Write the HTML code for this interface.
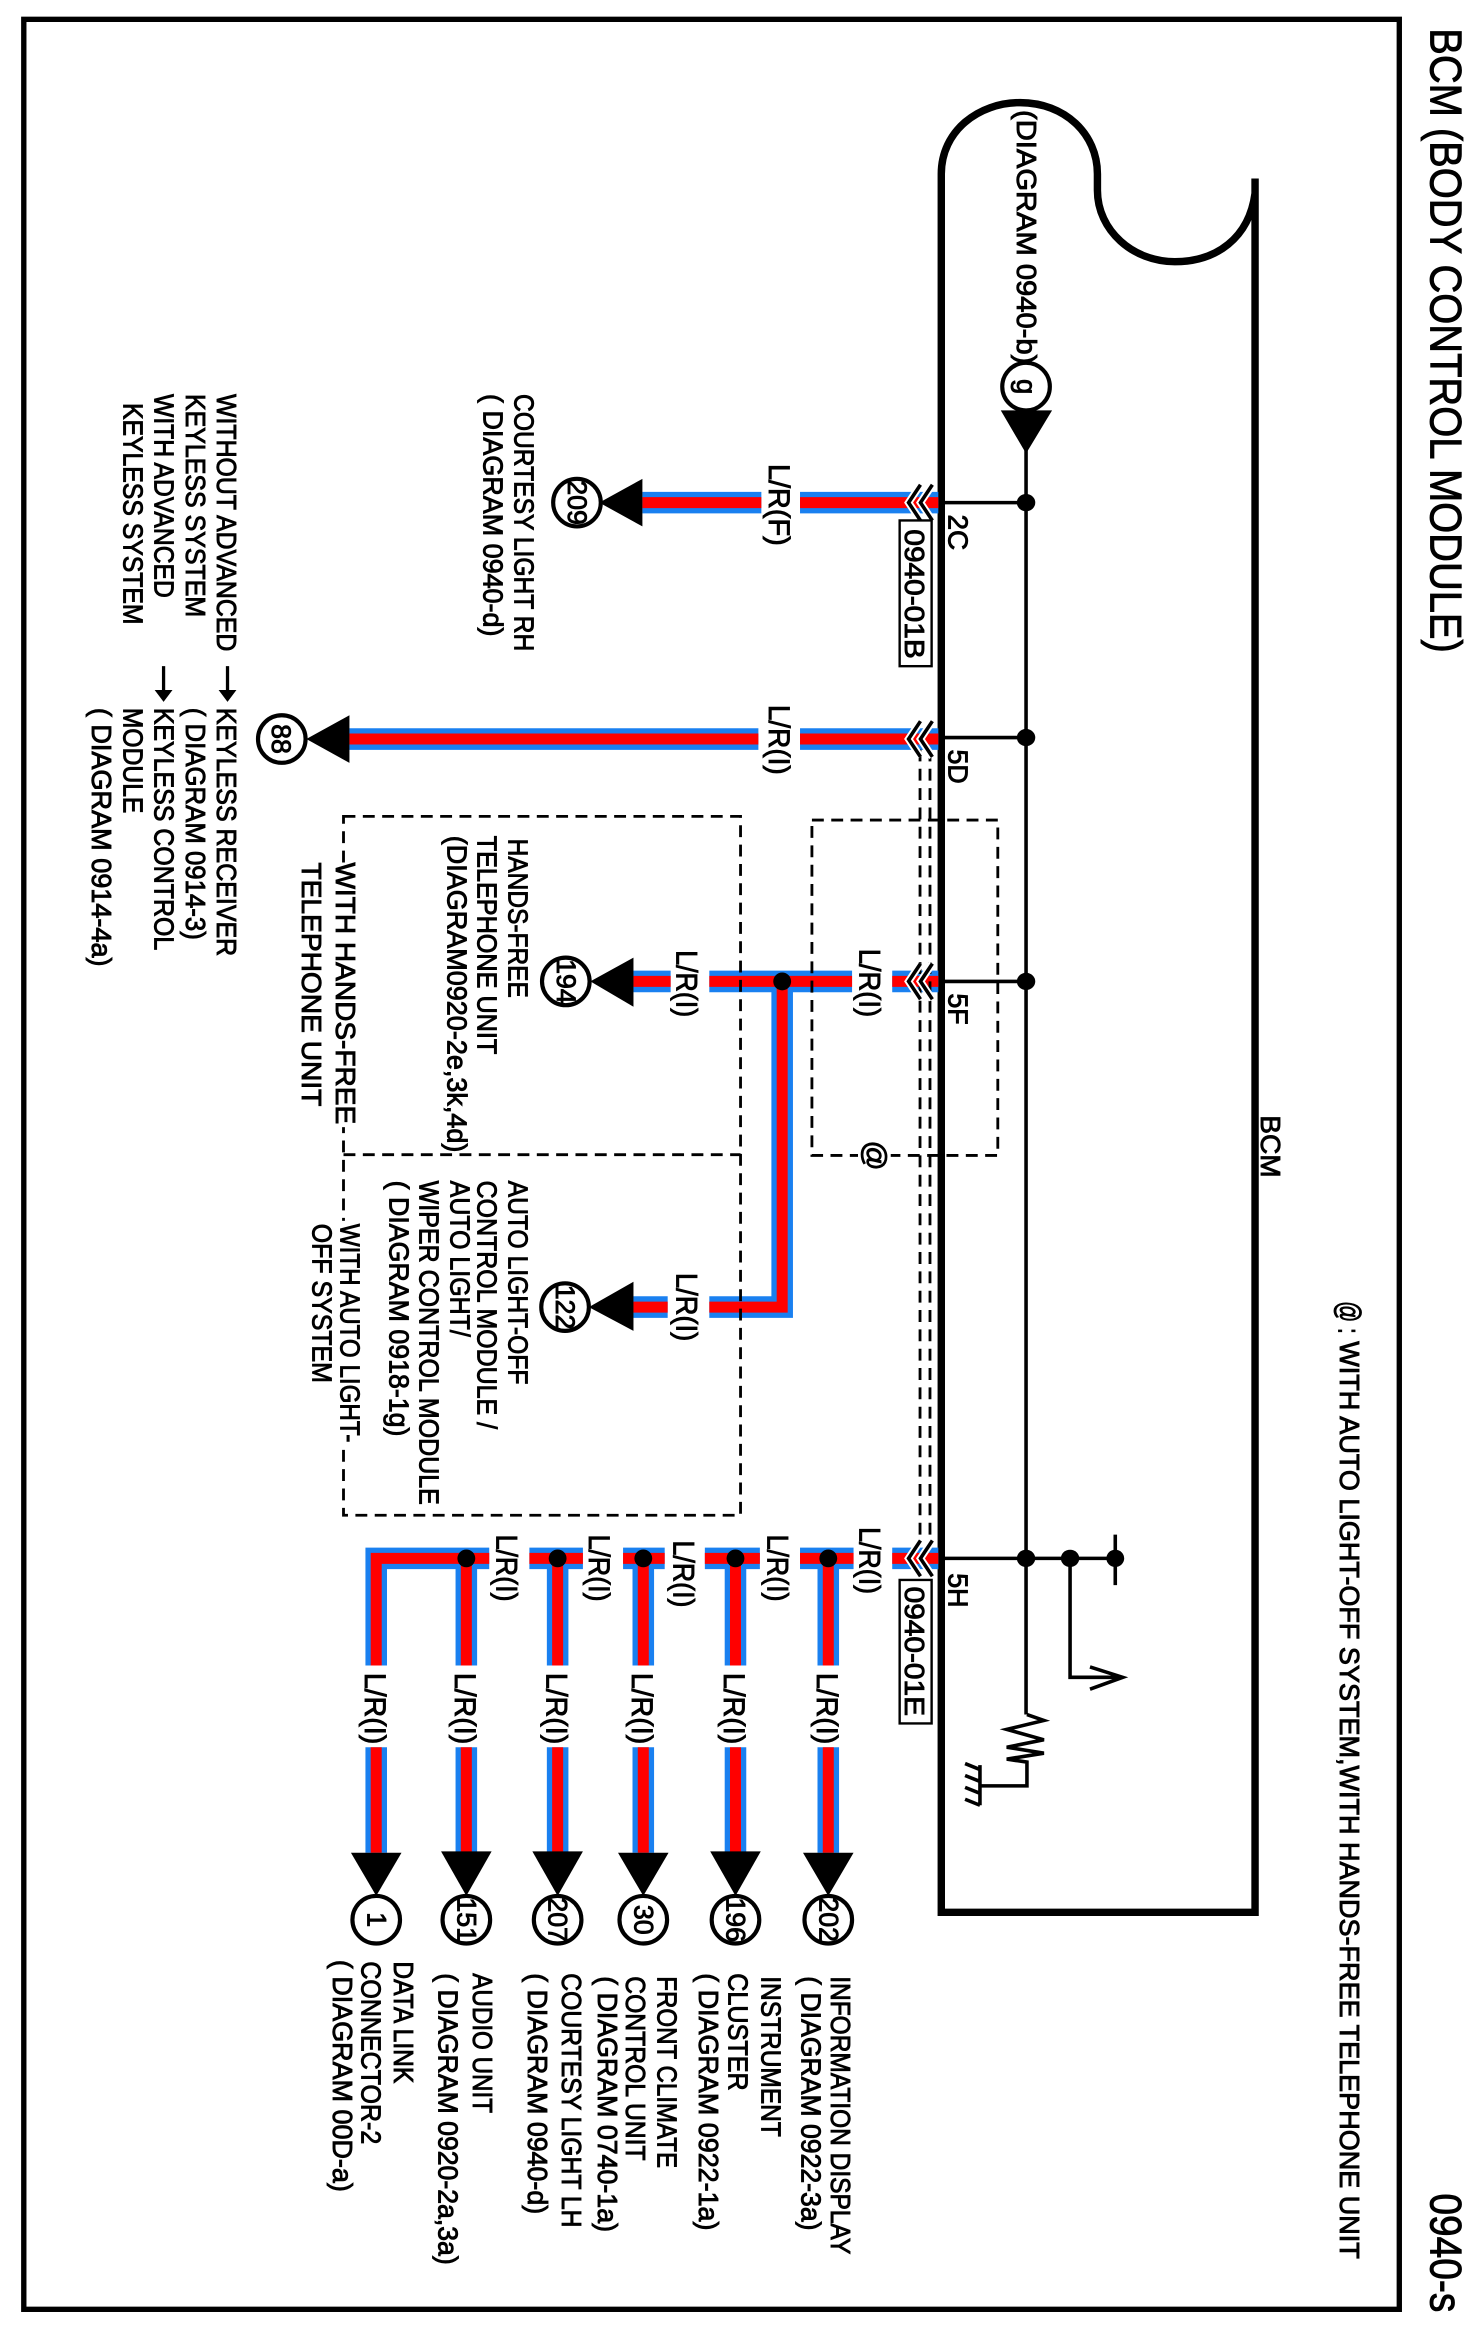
<!DOCTYPE html>
<html><head><meta charset="utf-8"><style>
html,body{margin:0;padding:0;background:#fff}
svg{display:block}
text{font-family:"Liberation Sans",sans-serif;font-size:18.5px;fill:#000;stroke:#000;stroke-width:.6}
.w{font-size:20px}
.n{font-size:18px}
.bh{stroke:#1a80f0;stroke-width:14.5;fill:none}
.rh{stroke:#ff0000;stroke-width:7.4;fill:none}
.k{stroke:#000;fill:none}
.d{stroke:#000;fill:none;stroke-width:1.9;stroke-dasharray:8 5}
.c{fill:#fff;stroke:#000;stroke-width:2.8}
</style></head><body>
<svg xmlns="http://www.w3.org/2000/svg" width="1479" height="2334" viewBox="0 0 994.6 1569.6" preserveAspectRatio="none">
<rect width="994.6" height="1569.6" fill="#fff"/>
<rect x="16" y="13" width="925" height="1540" fill="none" stroke="#000" stroke-width="3.6"/>

<!-- titles -->
<text transform="translate(962,19) rotate(90)" textLength="420" lengthAdjust="spacingAndGlyphs" style="font-size:30px">BCM (BODY CONTROL MODULE)</text>
<text transform="translate(962,1475) rotate(90)" textLength="80" lengthAdjust="spacingAndGlyphs" style="font-size:30px">0940-s</text>
<text transform="translate(900,875) rotate(90)" textLength="22" lengthAdjust="spacingAndGlyphs" style="font-size:21px">@ :</text>
<text transform="translate(901,902) rotate(90)" textLength="617" lengthAdjust="spacingAndGlyphs">WITH AUTO LIGHT-OFF SYSTEM,WITH HANDS-FREE TELEPHONE UNIT</text>
<text transform="translate(848,750) rotate(90)" textLength="42" lengthAdjust="spacingAndGlyphs">BCM</text>

<!-- module -->
<path class="k" stroke-width="5" d="M633 1286V117C633 88 658 69 686 69C716 69 738 90 738 117V128C738 155 762 176 790 176C818 176 840 160 844 130V120V1286Z"/>

<!-- bus -->
<path class="k" stroke-width="2.4" d="M690 300V1153M633 338H690M633 496H690M633 660H690M633 1048H750M750 1032V1066M719.6 1048V1128H755M733 1121L755 1128L733 1136"/>
<path class="k" stroke-width="2.4" d="M690.6 1153L702 1157L677 1163L702 1170L677 1175L702 1179L677 1183L690.6 1185V1201H659M659 1187V1214M659 1190L649 1186M659 1198L649 1194M659 1206L649 1202M659 1214L649 1210"/>
<g>
<ellipse cx="690" cy="338" rx="6.2" ry="5.8"/><ellipse cx="690" cy="496" rx="6.2" ry="5.8"/><ellipse cx="690" cy="660" rx="6.2" ry="5.8"/><ellipse cx="690" cy="1048" rx="6.2" ry="5.8"/><ellipse cx="719.6" cy="1048" rx="6.2" ry="5.8"/><ellipse cx="750" cy="1048" rx="6" ry="5.8"/>
</g>

<circle class="c" cx="690" cy="260" r="16"/>
<text transform="translate(684,260) rotate(90)" text-anchor="middle">g</text>
<path d="M673 276H707.5L690 305Z"/>
<text transform="translate(684,74) rotate(90)" textLength="171" lengthAdjust="spacingAndGlyphs">(DIAGRAM 0940-b)</text>

<!-- wires -->
<path class="bh" d="M432 338H512M538 338H631M235 497H510M538 497H631M426 660H451M477 660H573M600 660H631M426 879H449M477 879H526V660M600 1048H631"/>
<path class="bh" d="M538 1048H574M474 1048H511M419 1048H447M356 1048H392M329 1048H253V1120M253 1175V1246M313.6 1048V1120M313.6 1175V1246M375 1048V1120M375 1175V1246M432.6 1048V1120M432.6 1175V1246M494.6 1048V1120M494.6 1175V1246M557 1048V1120M557 1175V1246"/>
<path class="rh" d="M432 338H512M538 338H631M235 497H510M538 497H631M426 660H451M477 660H573M600 660H631M426 879H449M477 879H526V660M600 1048H631"/>
<path class="rh" d="M538 1048H574M474 1048H511M419 1048H447M356 1048H392M329 1048H253V1120M253 1175V1246M313.6 1048V1120M313.6 1175V1246M375 1048V1120M375 1175V1246M432.6 1048V1120M432.6 1175V1246M494.6 1048V1120M494.6 1175V1246M557 1048V1120M557 1175V1246"/>
<circle cx="526" cy="660" r="6"/><circle cx="557" cy="1048" r="6"/><circle cx="494.6" cy="1048" r="6"/><circle cx="432.6" cy="1048" r="6"/><circle cx="375" cy="1048" r="6"/><circle cx="313.6" cy="1048" r="6"/>

<!-- dashed -->
<path class="d" d="M618.7 504V1036M625.4 504V1036"/>
<path class="d" d="M546 551.5H671V777H546Z"/>
<path class="d" d="M231 549H498V1019H231ZM231 776.5H498"/>
<rect x="224" y="582" width="16" height="176" fill="#fff"/>
<rect x="224" y="821" width="16" height="152" fill="#fff"/>
<rect x="577" y="769" width="22" height="17" fill="#fff"/>

<!-- chevrons -->
<g fill="none" stroke="#fff" stroke-width="5">
<path d="M619 326L611 338L619 350M627 326L619 338L627 350"/><path d="M619 485L611 497L619 509M627 485L619 497L627 509"/><path d="M619 648L611 660L619 672M627 648L619 660L627 672"/><path d="M619 1036L611 1048L619 1060M627 1036L619 1048L627 1060"/>
</g>
<g fill="none" stroke="#000" stroke-width="2.4">
<path d="M619 326L611 338L619 350M627 326L619 338L627 350"/><path d="M619 485L611 497L619 509M627 485L619 497L627 509"/><path d="M619 648L611 660L619 672M627 648L619 660L627 672"/><path d="M619 1036L611 1048L619 1060M627 1036L619 1048L627 1060"/>
</g>

<!-- arrowheads -->
<path d="M432 322V354L403 338Z"/><path d="M235 481V513L206 497Z"/><path d="M426 644V677L397 660Z"/><path d="M426 862V895L396 879Z"/>
<path d="M540 1246H574L557 1275Z"/><path d="M477.6 1245H511.6L494.6 1275Z"/><path d="M415.6 1246H449.6L432.6 1275Z"/><path d="M358 1245H392L375 1275Z"/><path d="M296.6 1245H330.6L313.6 1275Z"/><path d="M236 1246H270L253 1275Z"/>

<!-- circles -->
<circle class="c" cx="388" cy="338" r="16"/><circle class="c" cx="189.5" cy="497" r="16"/><circle class="c" cx="380.5" cy="660" r="16"/><circle class="c" cx="380" cy="879" r="16"/>
<circle class="c" cx="557" cy="1291" r="16"/><circle class="c" cx="494.6" cy="1291" r="16"/><circle class="c" cx="432.6" cy="1291" r="16"/><circle class="c" cx="375" cy="1291" r="16"/><circle class="c" cx="313.6" cy="1291" r="16"/><circle class="c" cx="253" cy="1291" r="16"/>
<text class="n" transform="translate(382,338) rotate(90)" text-anchor="middle" textLength="30" lengthAdjust="spacingAndGlyphs">209</text>
<text class="n" transform="translate(183,497) rotate(90)" text-anchor="middle">88</text>
<text class="n" transform="translate(374.5,660) rotate(90)" text-anchor="middle" textLength="30" lengthAdjust="spacingAndGlyphs">194</text>
<text class="n" transform="translate(374,879) rotate(90)" text-anchor="middle" textLength="30" lengthAdjust="spacingAndGlyphs">122</text>
<text class="n" transform="translate(551,1291) rotate(90)" text-anchor="middle" textLength="30" lengthAdjust="spacingAndGlyphs">202</text>
<text class="n" transform="translate(488.6,1291) rotate(90)" text-anchor="middle" textLength="30" lengthAdjust="spacingAndGlyphs">196</text>
<text class="n" transform="translate(426.6,1291) rotate(90)" text-anchor="middle">30</text>
<text class="n" transform="translate(369,1291) rotate(90)" text-anchor="middle" textLength="30" lengthAdjust="spacingAndGlyphs">207</text>
<text class="n" transform="translate(307.6,1291) rotate(90)" text-anchor="middle" textLength="30" lengthAdjust="spacingAndGlyphs">151</text>
<text class="n" transform="translate(247,1291) rotate(90)" text-anchor="middle">1</text>

<!-- pin labels & connector boxes -->
<text transform="translate(638,346) rotate(90)" textLength="24" lengthAdjust="spacingAndGlyphs">2C</text>
<text transform="translate(638,504) rotate(90)" textLength="23" lengthAdjust="spacingAndGlyphs">5D</text>
<text transform="translate(638,668) rotate(90)" textLength="21" lengthAdjust="spacingAndGlyphs">5F</text>
<text transform="translate(638,1058) rotate(90)" textLength="23" lengthAdjust="spacingAndGlyphs">5H</text>
<rect x="605" y="350" width="21.5" height="98" fill="#fff" stroke="#000" stroke-width="1.6"/>
<text transform="translate(608.5,356) rotate(90)" textLength="87" lengthAdjust="spacingAndGlyphs">0940-01B</text>
<rect x="605" y="1062.5" width="21.5" height="96.5" fill="#fff" stroke="#000" stroke-width="1.6"/>
<text transform="translate(608.5,1067) rotate(90)" textLength="87" lengthAdjust="spacingAndGlyphs">0940-01E</text>

<!-- wire labels -->
<text class="w" transform="translate(517,312) rotate(90)" textLength="55" lengthAdjust="spacingAndGlyphs">L/R(F)</text>
<text class="w" transform="translate(517,474) rotate(90)" textLength="47" lengthAdjust="spacingAndGlyphs">L/R(I)</text>
<text class="w" transform="translate(578,638) rotate(90)" textLength="46" lengthAdjust="spacingAndGlyphs">L/R(I)</text>
<text class="w" transform="translate(455,639) rotate(90)" textLength="45" lengthAdjust="spacingAndGlyphs">L/R(I)</text>
<text class="w" transform="translate(455,856) rotate(90)" textLength="46" lengthAdjust="spacingAndGlyphs">L/R(I)</text>
<text class="w" transform="translate(578,1027) rotate(90)" textLength="45" lengthAdjust="spacingAndGlyphs">L/R(I)</text>
<text class="w" transform="translate(516,1032) rotate(90)" textLength="45" lengthAdjust="spacingAndGlyphs">L/R(I)</text>
<text class="w" transform="translate(453,1036) rotate(90)" textLength="45" lengthAdjust="spacingAndGlyphs">L/R(I)</text>
<text class="w" transform="translate(396,1032) rotate(90)" textLength="45" lengthAdjust="spacingAndGlyphs">L/R(I)</text>
<text class="w" transform="translate(334,1032) rotate(90)" textLength="45" lengthAdjust="spacingAndGlyphs">L/R(I)</text>
<text class="w" transform="translate(549.5,1125) rotate(90)" textLength="48" lengthAdjust="spacingAndGlyphs">L/R(I)</text>
<text class="w" transform="translate(487,1125) rotate(90)" textLength="48" lengthAdjust="spacingAndGlyphs">L/R(I)</text>
<text class="w" transform="translate(425,1125) rotate(90)" textLength="48" lengthAdjust="spacingAndGlyphs">L/R(I)</text>
<text class="w" transform="translate(367.5,1125) rotate(90)" textLength="48" lengthAdjust="spacingAndGlyphs">L/R(I)</text>
<text class="w" transform="translate(306,1125) rotate(90)" textLength="48" lengthAdjust="spacingAndGlyphs">L/R(I)</text>
<text class="w" transform="translate(245.5,1125) rotate(90)" textLength="48" lengthAdjust="spacingAndGlyphs">L/R(I)</text>
<text transform="translate(582,767) rotate(90)" style="font-size:20px">@</text>

<!-- destination labels bottom -->
<text transform="translate(559,1329) rotate(90)" textLength="187" lengthAdjust="spacingAndGlyphs">INFORMATION DISPLAY</text>
<text transform="translate(539,1329) rotate(90)" textLength="171" lengthAdjust="spacingAndGlyphs">( DIAGRAM 0922-3a)</text>
<text transform="translate(512,1329) rotate(90)" textLength="108" lengthAdjust="spacingAndGlyphs">INSTRUMENT</text>
<text transform="translate(490,1327) rotate(90)" textLength="79" lengthAdjust="spacingAndGlyphs">CLUSTER</text>
<text transform="translate(470,1327) rotate(90)" textLength="173" lengthAdjust="spacingAndGlyphs">( DIAGRAM 0922-1a)</text>
<text transform="translate(442,1329) rotate(90)" textLength="129" lengthAdjust="spacingAndGlyphs">FRONT CLIMATE</text>
<text transform="translate(421,1329) rotate(90)" textLength="124" lengthAdjust="spacingAndGlyphs">CONTROL UNIT</text>
<text transform="translate(402,1329) rotate(90)" textLength="172" lengthAdjust="spacingAndGlyphs">( DIAGRAM 0740-1a)</text>
<text transform="translate(378,1327) rotate(90)" textLength="171" lengthAdjust="spacingAndGlyphs">COURTESY LIGHT LH</text>
<text transform="translate(355,1327) rotate(90)" textLength="162" lengthAdjust="spacingAndGlyphs">( DIAGRAM 0940-d)</text>
<text transform="translate(318,1327) rotate(90)" textLength="94" lengthAdjust="spacingAndGlyphs">AUDIO UNIT</text>
<text transform="translate(295,1327) rotate(90)" textLength="196" lengthAdjust="spacingAndGlyphs">( DIAGRAM 0920-2a,3a)</text>
<text transform="translate(265,1319) rotate(90)" textLength="82" lengthAdjust="spacingAndGlyphs">DATA LINK</text>
<text transform="translate(243,1319) rotate(90)" textLength="123" lengthAdjust="spacingAndGlyphs">CONNECTOR-2</text>
<text transform="translate(224,1318) rotate(90)" textLength="156" lengthAdjust="spacingAndGlyphs">( DIAGRAM 00D-a)</text>

<!-- top-left labels -->
<text transform="translate(346,265) rotate(90)" textLength="173" lengthAdjust="spacingAndGlyphs">COURTESY LIGHT RH</text>
<text transform="translate(325,265) rotate(90)" textLength="163" lengthAdjust="spacingAndGlyphs">( DIAGRAM 0940-d)</text>
<text transform="translate(146,265) rotate(90)" textLength="173" lengthAdjust="spacingAndGlyphs">WITHOUT ADVANCED</text>
<text transform="translate(125,265) rotate(90)" textLength="150" lengthAdjust="spacingAndGlyphs">KEYLESS SYSTEM</text>
<text transform="translate(104,265) rotate(90)" textLength="137" lengthAdjust="spacingAndGlyphs">WITH ADVANCED</text>
<text transform="translate(83,271) rotate(90)" textLength="149" lengthAdjust="spacingAndGlyphs">KEYLESS SYSTEM</text>
<path class="k" stroke-width="2.2" d="M153 448V466M110 448V466"/>
<path d="M147 464H159L153 472ZM104 464H116L110 472Z"/>
<text transform="translate(146,476) rotate(90)" textLength="167" lengthAdjust="spacingAndGlyphs">KEYLESS RECEIVER</text>
<text transform="translate(125,476) rotate(90)" textLength="156" lengthAdjust="spacingAndGlyphs">( DIAGRAM 0914-3)</text>
<text transform="translate(104,476) rotate(90)" textLength="163" lengthAdjust="spacingAndGlyphs">KEYLESS CONTROL</text>
<text transform="translate(83,476) rotate(90)" textLength="71" lengthAdjust="spacingAndGlyphs">MODULE</text>
<text transform="translate(62,476) rotate(90)" textLength="174" lengthAdjust="spacingAndGlyphs">( DIAGRAM 0914-4a)</text>

<!-- dashed box labels -->
<text transform="translate(342,564) rotate(90)" textLength="107" lengthAdjust="spacingAndGlyphs">HANDS-FREE</text>
<text transform="translate(321,562) rotate(90)" textLength="147" lengthAdjust="spacingAndGlyphs">TELEPHONE UNIT</text>
<text transform="translate(301,562) rotate(90)" textLength="213" lengthAdjust="spacingAndGlyphs">(DIAGRAM0920-2e,3k,4d)</text>
<text transform="translate(342,794) rotate(90)" textLength="137" lengthAdjust="spacingAndGlyphs">AUTO LIGHT-OFF</text>
<text transform="translate(321,794) rotate(90)" textLength="167" lengthAdjust="spacingAndGlyphs">CONTROL MODULE /</text>
<text transform="translate(303,794) rotate(90)" textLength="105" lengthAdjust="spacingAndGlyphs">AUTO LIGHT/</text>
<text transform="translate(282,794) rotate(90)" textLength="218" lengthAdjust="spacingAndGlyphs">WIPER CONTROL MODULE</text>
<text transform="translate(262,794) rotate(90)" textLength="172" lengthAdjust="spacingAndGlyphs">( DIAGRAM 0918-1g)</text>
<text transform="translate(226,580) rotate(90)" textLength="176" lengthAdjust="spacingAndGlyphs">WITH HANDS-FREE</text>
<text transform="translate(203,580) rotate(90)" textLength="164" lengthAdjust="spacingAndGlyphs">TELEPHONE UNIT</text>
<text transform="translate(229,823) rotate(90)" textLength="147" lengthAdjust="spacingAndGlyphs">WITH AUTO LIGHT-</text>
<text transform="translate(210,823) rotate(90)" textLength="107" lengthAdjust="spacingAndGlyphs">OFF SYSTEM</text>
</svg>
</body></html>
